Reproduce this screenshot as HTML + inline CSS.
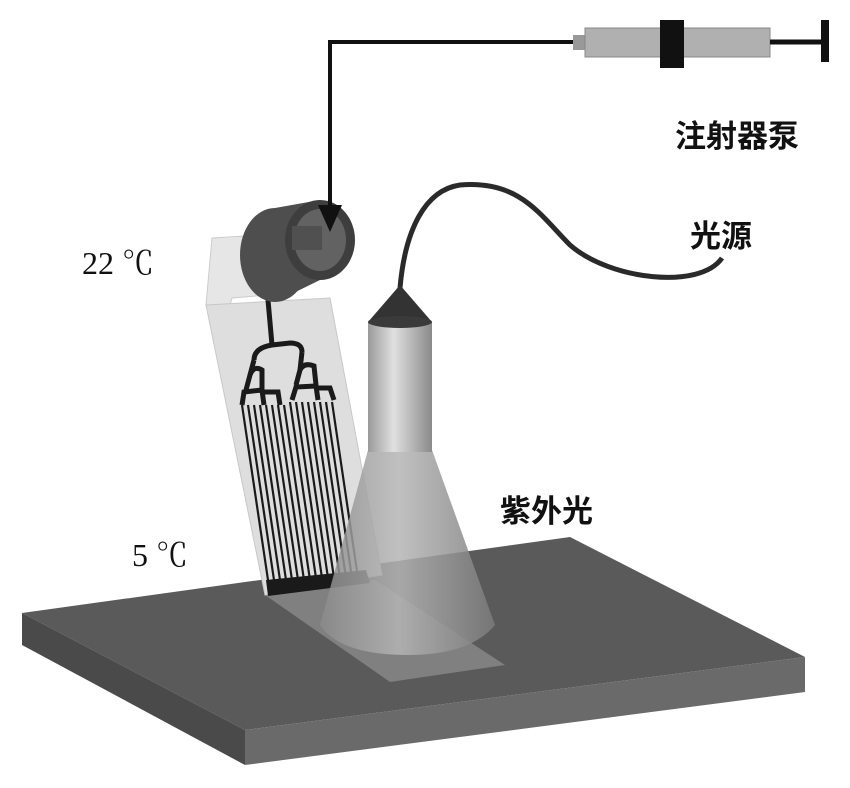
<!DOCTYPE html>
<html><head><meta charset="utf-8"><style>
html,body{margin:0;padding:0;background:#fff;width:850px;height:788px;overflow:hidden}
svg{display:block}
text{fill:#111}
.cn{font-family:"Noto Sans CJK SC","WenQuanYi Zen Hei",sans-serif;font-weight:bold}
.num{font-family:"Liberation Serif","Noto Serif CJK SC",serif}
</style></head><body>
<svg width="850" height="788" viewBox="0 0 850 788" xmlns="http://www.w3.org/2000/svg">
<defs>
<linearGradient id="cyl" x1="0" x2="1"><stop offset="0" stop-color="#9a9a9a"/><stop offset="0.4" stop-color="#e0e0e0"/><stop offset="1" stop-color="#8a8a8a"/></linearGradient>
<linearGradient id="cone" x1="0" x2="1"><stop offset="0" stop-color="#8a8a8a"/><stop offset="0.45" stop-color="#b5b5b5"/><stop offset="1" stop-color="#7a7a7a"/></linearGradient>
</defs>
<polygon points="22,613 570,537 805,657 245,730" fill="#5a5a5a"/>
<polygon points="22,613 245,730 245,765 22,645" fill="#4a4a4a"/>
<polygon points="245,730 805,657 805,692 245,765" fill="#6a6a6a"/>
<polygon points="265,595 375,580 505,665 390,682" fill="#8a8a8a" opacity="0.8"/>
<path d="M400,288 C405,230 425,190 460,185 C520,180 540,215 570,245 C610,280 700,290 722,258" fill="none" stroke="#2a2a2a" stroke-width="5"/>
<polygon points="212,238 262,235 268,295 232,298 230,305 206,305" fill="#e6e6e6" stroke="#ccc"/>
<polygon points="206,305 330,298 382,575 265,595" fill="#dedede" stroke="#c8c8c8"/>
<g stroke="#1a1a1a" fill="none" stroke-width="5">
<path d="M268,300 L272,345"/>
<path d="M254,360 Q254,348 272,345 L290,343 Q302,343 302,352"/>
<path d="M246,390 L250,375 Q254,365 262,370 L262,390"/>
<path d="M296,385 L300,370 Q304,362 314,366 L316,385"/>
<path d="M254,360 L250,375 M302,352 L300,370"/>
<path d="M242,405 L244,392 L262,390 L264,405 M262,392 L278,392 L280,405"/>
<path d="M292,400 L296,387 L316,386 L318,400 M316,388 L330,388 L334,400"/>
</g>
<g stroke="#1a1a1a" stroke-width="2.2">
<line x1="242" y1="405" x2="268" y2="580"/><line x1="248" y1="405" x2="274" y2="580"/>
<line x1="254" y1="405" x2="280" y2="580"/><line x1="260" y1="405" x2="286" y2="580"/>
<line x1="266" y1="405" x2="292" y2="580"/><line x1="272" y1="405" x2="298" y2="580"/>
<line x1="278" y1="405" x2="304" y2="580"/><line x1="284" y1="405" x2="310" y2="580"/>
<line x1="290" y1="402" x2="316" y2="578"/><line x1="296" y1="402" x2="322" y2="578"/>
<line x1="302" y1="402" x2="328" y2="578"/><line x1="308" y1="402" x2="334" y2="578"/>
<line x1="314" y1="402" x2="340" y2="578"/><line x1="320" y1="402" x2="346" y2="578"/>
<line x1="326" y1="402" x2="352" y2="578"/><line x1="332" y1="402" x2="358" y2="578"/>
</g>
<polygon points="266,580 366,570 370,583 268,596" fill="#1a1a1a"/>
<!-- connector cylinder -->
<ellipse cx="275" cy="255" rx="35" ry="47" fill="#4e4e4e"/>
<polygon points="275,208 320,200 320,280 275,302" fill="#4e4e4e"/>
<ellipse cx="320" cy="240" rx="35" ry="40" fill="#3e3e3e"/>
<ellipse cx="320" cy="240" rx="26" ry="31" fill="#626262"/>
<rect x="292" y="226" width="30" height="24" fill="#505050"/>
<path d="M368,450 L432,450 L495,625 Q470,655 408,655 Q340,655 320,625 Z" fill="url(#cone)" opacity="0.85"/>
<rect x="368" y="322" width="64" height="130" fill="url(#cyl)"/>
<polygon points="400,285 368,322 432,322" fill="#333"/>
<ellipse cx="400" cy="322" rx="32" ry="6" fill="#3a3a3a"/>
<polyline points="575,42 330,42 330,215" fill="none" stroke="#111" stroke-width="4"/>
<polygon points="318,205 342,205 330,232" fill="#111"/>
<rect x="573" y="35" width="12" height="15" fill="#999"/>
<rect x="585" y="28" width="185" height="29" fill="#b0b0b0" stroke="#888"/>
<rect x="660" y="20" width="24" height="48" fill="#111"/>
<line x1="770" y1="42" x2="825" y2="42" stroke="#111" stroke-width="5"/>
<rect x="821" y="20" width="8" height="42" fill="#111"/>
<text class="cn" x="675" y="147" font-size="31">注射器泵</text>
<text class="cn" x="690" y="247" font-size="31">光源</text>
<text class="cn" x="500" y="522" font-size="31">紫外光</text>
<text class="num" x="82" y="274" font-size="32">22 ℃</text>
<text class="num" x="132" y="566" font-size="32">5 ℃</text>
</svg>
</body></html>
